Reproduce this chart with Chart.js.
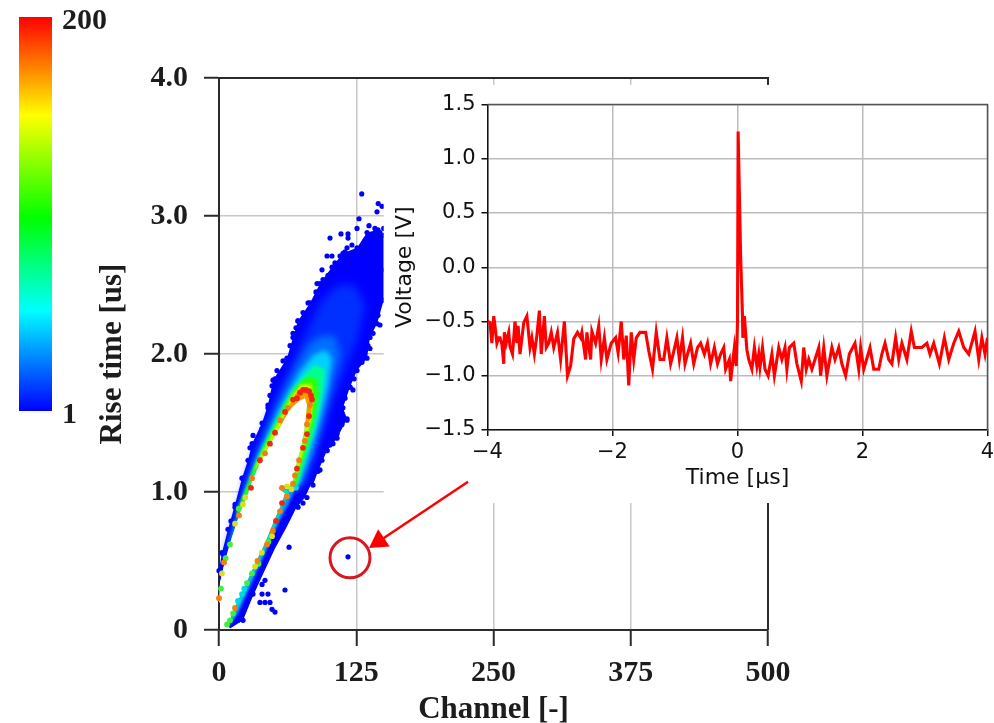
<!DOCTYPE html>
<html><head><meta charset="utf-8">
<style>
html,body{margin:0;padding:0;background:#fff;width:994px;height:723px;overflow:hidden}
canvas{position:absolute;display:block;filter:blur(0.45px)}
#main{left:0;top:0}
#inset{left:384px;top:86px}
#bar{left:0;top:-20px}
</style>
<script src="https://cdn.jsdelivr.net/npm/chart.js@4/dist/chart.umd.min.js"></script>
</head><body>
<canvas id="main" width="994" height="723"></canvas>
<canvas id="bar" width="120" height="470"></canvas>
<canvas id="inset" width="640" height="416"></canvas>
<script>
// ---- colour bar
const colorStops = [[0,'#ff0000'],[0.25,'#ffff00'],[0.51,'#00ff00'],[0.745,'#00ffff'],[1,'#0000ff']];
const countRange = [1,200];

// ---- main plot ticks
const channelTicks = [0,125,250,375,500];
const riseTicks = [0,1,2,3,4];

// ---- density bands (channel, rise time)
const innerEdge = [[66.5,1.03],[69.2,1.17],[74.7,1.32],[78.3,1.48],[80.1,1.63],[78.3,1.68],[72.9,1.66],[64.7,1.60],[55.6,1.47],[46.4,1.34],[37.3,1.21],[30.1,1.08],[26.4,0.99],[19.1,0.85],[10.9,0.65],[5.5,0.50],[0.9,0.34],[0,0.21]];
const cloudOutline = [[0,0.43],[2.7,0.56],[8.2,0.73],[14.6,0.91],[20.9,1.10],[26.4,1.23],[30.1,1.35],[39.2,1.50],[44.6,1.63],[49.2,1.81],[61.9,1.97],[67.4,2.12],[71.9,2.24],[82.9,2.37],[92,2.51],[102.9,2.63],[112.9,2.73],[125.7,2.77],[134.8,2.88],[144.8,2.90],[150,2.86],[150,2.39],[143.9,2.22],[137.5,2.12],[134.8,1.97],[125.7,1.88],[119.3,1.76],[112.9,1.61],[116.6,1.53],[107.5,1.39],[98.4,1.30],[90.2,1.15],[85.6,1.05]];
const bandDeep = [[3.6,0.49],[10,0.68],[17.3,0.86],[23.7,1.05],[31,1.24],[39.2,1.41],[48.3,1.59],[55.6,1.74],[64.7,1.89],[73.8,2.06],[82.9,2.21],[93.8,2.39],[108.4,2.50],[123.9,2.50],[133,2.35],[126.6,2.13],[117.5,1.95],[108.4,1.77],[101.1,1.63],[93.8,1.44],[86.5,1.26],[79.2,1.12],[72.9,1.03]];
const bandSky = [[6.4,0.56],[12.8,0.72],[20,0.90],[26.4,1.07],[33.7,1.24],[42.8,1.43],[51,1.59],[60.1,1.75],[71,1.92],[81.1,2.06],[92,2.13],[105.6,2.13],[110.2,1.99],[103.8,1.81],[98.4,1.63],[92,1.44],[84.7,1.26],[76.5,1.08],[70.1,1.03]];
const bandCyan = [[8.2,0.61],[14.6,0.75],[22.8,0.97],[28.2,1.10],[35.5,1.26],[44.6,1.42],[53.7,1.58],[62.8,1.72],[73.8,1.87],[85.6,1.99],[96.5,2.03],[102.9,1.97],[99.3,1.77],[93.8,1.59],[88.3,1.43],[81.1,1.24],[73.8,1.07],[69.2,1.03]];
const bandSea = [[10,0.65],[17.3,0.85],[24.6,1.02],[31,1.15],[39.2,1.31],[48.3,1.46],[57.4,1.60],[66.5,1.74],[76.5,1.84],[87.4,1.92],[96.5,1.89],[94.7,1.74],[90.2,1.55],[85.6,1.41],[78.3,1.23],[71.9,1.05],[68.3,1.03]];
const bandGreen = [[15.5,0.84],[26.4,1.06],[33.7,1.21],[41.9,1.34],[51,1.48],[61,1.65],[70.1,1.76],[80.1,1.83],[89.3,1.82],[90.2,1.70],[86.5,1.53],[82,1.39],[75.6,1.21],[70.1,1.05]];
const bandLime = [[31,1.15],[39.2,1.28],[48.3,1.42],[57.4,1.56],[66.5,1.70],[74.7,1.78],[83.8,1.78],[85.6,1.68],[83.8,1.52],[79.2,1.37],[73.8,1.21],[70.1,1.12]];
const bandOrange = [[57.4,1.52],[64.7,1.64],[71.9,1.74],[79.2,1.76],[85.6,1.72],[84.7,1.63],[82.9,1.52]];
const lowerEdge = [[53.7,1.03],[60.1,0.99],[55.6,0.89],[51,0.81],[41.9,0.63],[32.8,0.48],[23.7,0.32],[14.6,0.17],[8.2,0.04]];
const lowerBlue = [[10,0.01],[21.9,0.07],[30.1,0.23],[39.2,0.39],[51,0.59],[61.9,0.75],[70.1,0.88],[78.3,0.96],[84,1.06],[66,1.04]];
const lowerSky = [[10.9,0.05],[17.3,0.12],[26.4,0.28],[35.5,0.44],[44.6,0.60],[54.6,0.78],[61.9,0.89],[67.4,0.98],[68.3,1.02]];
const lowerGreen = [[9.5,0.04],[12.8,0.09],[21.9,0.25],[31,0.41],[40.1,0.56],[49.2,0.72],[58.3,0.90],[64.7,1.01]];

// ---- individual points
const bluePoints = [[130,3.16],[145,3.09],[148.5,3.07],[143.9,3.03],[127.5,2.98],[125.7,2.91],[136.6,2.93],[117.5,2.87],[111.1,2.87],[101.1,2.84],[117.5,2.84],[98.4,2.71],[102.9,2.71],[93.8,2.61],[114.8,2.74],[125.7,2.74],[89.3,2.51],[94.7,2.54],[81.1,2.37],[71.9,2.24],[73.8,2.21],[67.4,2.15],[51,1.82],[144.8,2.28],[146.6,2.21],[140.3,2.15],[137.5,2.04],[146.6,2.48],[144.8,2.37],[122,1.74],[119.3,1.76],[116.6,1.52],[112,1.49],[107.5,1.42],[103.8,1.35],[98.4,1.30],[92,1.16],[80.1,0.96],[76.5,0.92],[72,0.89],[63.8,0.60],[60.1,0.29],[41.9,0.36],[39.2,0.33],[39.2,0.26],[44.6,0.26],[31,0.26],[37.3,0.20],[41.9,0.20],[46.4,0.20],[48.3,0.15],[51,0.13],[21.9,0.07],[17.3,0.07],[117.5,0.53],[28.2,1.32],[31,1.41],[21.9,1.10],[14.6,0.89],[10.9,0.79],[3.6,0.55],[39.2,1.46],[44.6,1.61],[137.5,2.86],[142,2.91],[146.6,2.88],[150,2.91],[144.8,2.82],[133,2.82],[121.1,2.79],[116.6,2.77],[110.2,2.71],[105.6,2.66],[99.3,2.57],[88.3,2.45],[76.5,2.30],[70.1,2.19],[64.7,2.06],[58.3,1.95],[52.8,1.88],[48.3,1.77],[46.4,1.70],[146.6,2.39],[148.5,2.61],[142.1,2.26],[135.7,2.06],[130.2,1.94],[123,1.82],[114.8,1.68],[110.2,1.48],[101,1.34],[93.8,1.23]];
const redPoints = [[29.1,1.03],[37.3,1.23],[46.4,1.35],[51,1.43],[60.1,1.58],[67.4,1.67],[71,1.68],[73.8,1.72],[76.5,1.74],[79.2,1.74],[82,1.73],[83.8,1.70],[84.7,1.67],[82,1.55],[80.1,1.42],[76.5,1.32],[71,1.17],[51.9,0.79],[57.4,0.92]];
const orangePoints = [[30.1,1.10],[41.9,1.28],[55.6,1.52],[62.8,1.61],[82.9,1.63],[80.1,1.49],[78.3,1.37],[72.9,1.23],[69.2,1.12],[67.4,1.06],[57.4,1.03],[61.9,0.97],[55.6,0.86],[43.7,0.62],[18.2,0.83],[4.6,0.49],[0,0.23],[14.6,0.16],[49,0.72],[35,0.50]];
const yellowPoints = [[48.3,0.68],[32.8,0.46],[21.9,0.91],[14.6,0.77],[2.7,0.41],[39,0.56],[24,0.96],[62,1.04],[66,1.02]];
const greenPoints = [[30,0.41],[25.5,0.34],[10,0.07],[7.3,0.04],[12.8,0.12],[10,0.62],[1.8,0.30],[36,0.48],[45,0.64],[18,0.88],[6,0.52],[66,1.03]];
const cyanPoints = [[20.9,0.26],[17.3,0.21],[23,0.30],[70,1.03]];
const markedPoint = [[119.3,0.523]];
const arrowPath = [[226.8,1.074],[145.7,0.643]];

// ---- inset trace
const timeUs = [-4.00,-3.96,-3.93,-3.90,-3.88,-3.85,-3.82,-3.80,-3.77,-3.74,-3.73,-3.70,-3.66,-3.64,-3.60,-3.56,-3.53,-3.51,-3.48,-3.42,-3.37,-3.32,-3.29,-3.25,-3.21,-3.17,-3.14,-3.09,-3.06,-3.02,-2.98,-2.94,-2.88,-2.83,-2.77,-2.72,-2.67,-2.62,-2.56,-2.51,-2.49,-2.43,-2.41,-2.35,-2.33,-2.27,-2.22,-2.18,-2.13,-2.09,-2.02,-1.95,-1.91,-1.86,-1.82,-1.78,-1.74,-1.70,-1.66,-1.62,-1.56,-1.47,-1.42,-1.36,-1.30,-1.24,-1.18,-1.13,-1.07,-1.03,-0.97,-0.93,-0.88,-0.84,-0.80,-0.75,-0.70,-0.64,-0.59,-0.53,-0.48,-0.43,-0.37,-0.32,-0.27,-0.22,-0.19,-0.13,-0.11,-0.05,-0.02,0.00,0.01,0.05,0.08,0.085,0.11,0.15,0.18,0.23,0.27,0.31,0.34,0.36,0.40,0.44,0.49,0.55,0.59,0.66,0.71,0.76,0.79,0.83,0.90,0.95,1.02,1.06,1.10,1.14,1.19,1.24,1.30,1.33,1.38,1.43,1.51,1.56,1.62,1.67,1.73,1.79,1.88,1.94,1.97,2.02,2.12,2.18,2.26,2.31,2.36,2.42,2.47,2.53,2.58,2.63,2.71,2.78,2.83,2.95,3.03,3.08,3.14,3.23,3.31,3.38,3.46,3.54,3.62,3.70,3.80,3.86,3.91,3.96,4.00];
const voltage = [-0.50,-0.51,-0.70,-0.45,-0.54,-0.70,-0.65,-0.65,-0.71,-0.89,-0.60,-0.70,-0.60,-0.73,-0.80,-0.50,-0.70,-0.54,-0.80,-0.51,-0.45,-0.74,-0.65,-0.80,-0.63,-0.40,-0.80,-0.45,-0.74,-0.70,-0.60,-0.74,-0.60,-0.85,-0.50,-1.00,-0.91,-0.66,-0.60,-0.65,-0.60,-0.85,-0.60,-0.85,-0.59,-0.70,-0.54,-0.85,-0.65,-0.85,-0.70,-0.65,-0.79,-0.50,-0.85,-0.63,-1.09,-0.60,-0.85,-0.65,-0.60,-0.60,-0.77,-0.94,-0.60,-0.85,-0.85,-0.65,-0.89,-0.80,-0.65,-0.85,-0.65,-0.89,-0.80,-0.70,-0.89,-0.74,-0.70,-0.80,-0.70,-0.89,-0.74,-0.89,-0.80,-0.74,-0.94,-0.85,-1.05,-0.74,-0.91,-0.50,1.25,0.10,-0.45,-0.65,-0.45,-0.76,-0.85,-0.94,-0.74,-0.91,-0.80,-0.92,-0.74,-0.94,-1.00,-0.80,-1.00,-0.74,-0.85,-0.74,-0.94,-0.74,-0.70,-0.89,-1.05,-0.74,-0.94,-0.85,-0.94,-0.85,-0.74,-1.00,-0.74,-1.00,-0.74,-0.85,-0.74,-0.89,-1.00,-0.80,-0.70,-0.94,-0.74,-0.94,-0.74,-0.94,-0.94,-0.80,-0.70,-0.85,-0.89,-0.65,-0.85,-0.70,-0.85,-0.59,-0.74,-0.74,-0.70,-0.80,-0.70,-0.89,-0.65,-0.85,-0.70,-0.59,-0.74,-0.80,-0.59,-0.85,-0.65,-0.80,-0.65];
const timeTicks = [-4,-2,0,2,4];
const voltageTicks = [-1.5,-1,-0.5,0,0.5,1,1.5];

const serifBold = size => ({family:'"Liberation Serif"',size,weight:'bold',lineHeight:1});
const sans = size => ({family:'"DejaVu Sans"',size,lineHeight:1});
const inkDark = '#1c1c1c';

function zip(xs,ys){return xs.map((x,i)=>({x,y:ys[i]}));}
function fixedTicks(values){return s=>{s.ticks=values.map(value=>({value}));};}
function band(points,color,soft){
  return {type:'scatter',showLine:true,fill:'shape',data:points,backgroundColor:color,borderColor:color,borderWidth:0,pointRadius:0,soft};
}
function dots(points,color,size){
  return {type:'scatter',showLine:false,data:points,backgroundColor:color,borderColor:color,pointRadius:size||2.6,pointBorderWidth:0,pointBackgroundColor:color};
}

// back-to-front drawing list
const layers = [
  band(cloudOutline.concat(innerEdge),'#0000ff',0.6),
  band(lowerEdge.concat(lowerBlue),'#0000ff',0.6),
  dots(cloudOutline,'#0000ff'),
  dots(bluePoints,'#0000ff'),
  band(lowerEdge.concat(lowerSky),'#0090ff',1.2),
  band(lowerEdge.concat(lowerGreen),'#10f0a0',1),
  band(bandDeep.concat(innerEdge.slice(0,16)),'#0030ff',4),
  band(bandSky.concat(innerEdge.slice(0,16)),'#0070ff',3.5),
  band(bandCyan.concat(innerEdge.slice(0,15)),'#00d0ff',2.5),
  band(bandSea.concat(innerEdge.slice(0,15)),'#00ff90',1.8),
  band(bandGreen.concat(innerEdge.slice(0,14)),'#30ff00',1.4),
  band(bandLime.concat(innerEdge.slice(0,11)),'#d0ff00',1),
  band(bandOrange.concat(innerEdge.slice(3,9)),'#ff9800',0.7),
  band(innerEdge.concat(lowerEdge.slice().reverse()),'#ffffff',0.4),
  dots(cyanPoints,'#00d8e8',2.9),
  dots(greenPoints,'#40f040',2.9),
  dots(yellowPoints,'#d8e020',2.9),
  dots(orangePoints,'#f08010',2.9),
  dots(redPoints,'#f02810',2.9),
  {type:'scatter',label:'marker',showLine:false,data:markedPoint,pointRadius:20,pointBorderWidth:3,pointBorderColor:'#d8181f',pointBackgroundColor:'rgba(0,0,0,0)'},
  {type:'scatter',label:'arrow',showLine:true,data:arrowPath,borderColor:'#ff0000',borderWidth:2.5,pointStyle:'triangle',pointRadius:[0,12],pointRotation:[0,236],pointBorderWidth:0,pointBackgroundColor:'#ff0000'}
];
layers.forEach((d,i)=>{d.order=layers.length-i;d.clip=false;});

const softFor = i => layers[i] && layers[i].soft ? 'blur('+layers[i].soft+'px)' : 'none';
const mainFrame = {
  id:'mainFrame',
  beforeDatasetsDraw(chart){
    const {ctx,chartArea:a}=chart;
    ctx.save();ctx.strokeStyle='#2b2b2b';ctx.lineWidth=2;
    ctx.beginPath();ctx.moveTo(a.left,a.top);ctx.lineTo(a.right,a.top);ctx.lineTo(a.right,a.bottom);ctx.stroke();
    ctx.restore();
    ctx.filter=softFor(0);
  },
  afterDatasetDraw(chart,args){
    chart.ctx.filter=softFor(args.index+1);
  },
  beforeDatasetDraw(chart,args){
    if(chart.data.datasets[args.index].label!=='marker')return;
    const {ctx,scales:{x,y}}=chart;
    const L=x.getPixelForValue(150),T=y.getPixelForValue(3.95),B=y.getPixelForValue(0.92);
    ctx.save();ctx.fillStyle='#ffffff';ctx.fillRect(L,T,chart.width-L,B-T);ctx.restore();
  },
  afterDatasetsDraw(chart){chart.ctx.filter='none';}
};

new Chart(document.getElementById('main'),{
  type:'scatter',
  data:{datasets:layers},
  plugins:[mainFrame],
  options:{
    responsive:false,animation:false,devicePixelRatio:1,
    layout:{padding:{left:0,right:226,top:78,bottom:0}},
    plugins:{legend:{display:false},tooltip:{enabled:false}},
    scales:{
      x:{type:'linear',min:0,max:500,afterBuildTicks:fixedTicks(channelTicks),
        afterFit(s){s.height=93;},
        grid:{color:'#c8c8c8',lineWidth:1.5,tickLength:16,tickColor:'#2b2b2b',tickWidth:2},
        border:{display:true,color:'#2b2b2b',width:2},
        ticks:{font:serifBold(30),color:inkDark,padding:12,maxRotation:0,callback:v=>String(v)},
        title:{display:true,text:'Channel [-]',font:serifBold(31),color:inkDark,padding:{top:0,bottom:-2}}},
      y:{type:'linear',min:0,max:4,afterBuildTicks:fixedTicks(riseTicks),
        afterFit(s){s.width=219;},
        grid:{color:'#c8c8c8',lineWidth:1.5,tickLength:15,tickColor:'#2b2b2b',tickWidth:2},
        border:{display:true,color:'#2b2b2b',width:2},
        ticks:{font:serifBold(30),color:inkDark,padding:16,callback:v=>v===0?'0':v.toFixed(1)},
        title:{display:true,text:'Rise time [us]',font:serifBold(31),color:inkDark,padding:{top:97,bottom:0}}}
    }
  }
});

// colour bar
new Chart(document.getElementById('bar'),{
  type:'bar',
  data:{labels:['count'],datasets:[{data:[countRange],barPercentage:1,categoryPercentage:1,borderWidth:0,
    backgroundColor(c){
      const a=c.chart.chartArea; if(!a)return '#0000ff';
      const g=c.chart.ctx.createLinearGradient(0,a.top,0,a.bottom);
      colorStops.forEach(s=>g.addColorStop(s[0],s[1]));
      return g;
    }}]},
  options:{
    responsive:false,animation:false,devicePixelRatio:1,
    layout:{padding:{left:19,right:0,top:37,bottom:39}},
    plugins:{legend:{display:false},tooltip:{enabled:false}},
    scales:{
      x:{display:false},
      y:{type:'linear',position:'right',min:countRange[0],max:countRange[1],afterBuildTicks:fixedTicks(countRange),
        afterFit(s){s.width=68;},
        grid:{display:false},border:{display:false},
        ticks:{font:serifBold(30),color:inkDark,padding:2,labelOffset:4,callback:v=>String(v)}}
    }
  }
});

// inset
const insetFrame = {
  id:'insetFrame',
  beforeDatasetsDraw(chart){
    const {ctx,chartArea:a}=chart;
    ctx.save();ctx.strokeStyle='#555555';ctx.lineWidth=1.5;
    ctx.beginPath();ctx.moveTo(a.left,a.top);ctx.lineTo(a.right,a.top);ctx.lineTo(a.right,a.bottom);ctx.stroke();
    ctx.restore();
  }
};
const minus = s => s.replace('-','\u2212');
new Chart(document.getElementById('inset'),{
  type:'line',
  data:{datasets:[{data:zip(timeUs,voltage),borderColor:'#ff0000',borderWidth:3.1,pointRadius:0,tension:0,fill:false}]},
  plugins:[insetFrame],
  options:{
    responsive:false,animation:false,devicePixelRatio:1,
    layout:{padding:{left:0,right:36.5,top:18.5,bottom:0}},
    plugins:{legend:{display:false},tooltip:{enabled:false}},
    scales:{
      x:{type:'linear',min:-4,max:4,afterBuildTicks:fixedTicks(timeTicks),
        afterFit(s){s.height=72;},
        grid:{color:'#bbbbbb',lineWidth:1.5,tickLength:6,tickColor:'#111',tickWidth:1.5},
        border:{display:true,color:'#111',width:1.5},
        ticks:{font:sans(21),color:'#111',padding:6,maxRotation:0,callback:v=>minus(String(v))},
        title:{display:true,text:'Time [\u00b5s]',font:sans(22),color:'#111',padding:{top:0,bottom:13}}},
      y:{type:'linear',min:-1.5,max:1.5,afterBuildTicks:fixedTicks(voltageTicks),
        afterFit(s){s.width=103.5;},
        grid:{color:'#bbbbbb',lineWidth:1.5,tickLength:6,tickColor:'#111',tickWidth:1.5},
        border:{display:true,color:'#111',width:1.5},
        ticks:{font:sans(21),color:'#111',padding:6,callback:v=>minus(v.toFixed(1))},
        title:{display:true,text:'Voltage [V]',font:sans(22),color:'#111',padding:{top:10,bottom:0}}}
    }
  }
});
</script>
</body></html>
